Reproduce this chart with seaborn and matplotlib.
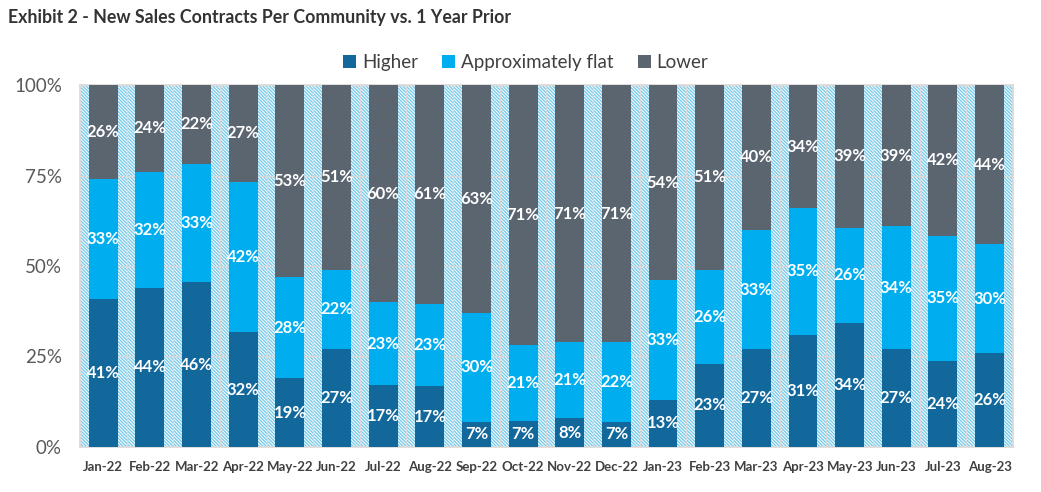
import numpy as np
import pandas as pd
import matplotlib
matplotlib.use('Agg')
import matplotlib.pyplot as plt
from matplotlib.patches import Patch
import seaborn as sns

sns.set_style('white')
plt.rcParams['font.family'] = ['Lato', 'DejaVu Sans']
plt.rcParams['hatch.color'] = '#7ACCEB'
plt.rcParams['hatch.linewidth'] = 1.0

# Datos (% de comunidades)
meses = ['Jan-22', 'Feb-22', 'Mar-22', 'Apr-22', 'May-22', 'Jun-22', 'Jul-22',
         'Aug-22', 'Sep-22', 'Oct-22', 'Nov-22', 'Dec-22', 'Jan-23', 'Feb-23',
         'Mar-23', 'Apr-23', 'May-23', 'Jun-23', 'Jul-23', 'Aug-23']
higher = [41, 44, 46, 32, 19, 27, 17, 17, 7, 7, 8, 7, 13, 23, 27, 31, 34, 27, 24, 26]
flat = [33, 32, 33, 42, 28, 22, 23, 23, 30, 21, 21, 22, 33, 26, 33, 35, 26, 34, 35, 30]
lower = [26, 24, 22, 27, 53, 51, 60, 61, 63, 71, 71, 71, 54, 51, 40, 34, 39, 39, 42, 44]

series = ['Higher', 'Approximately flat', 'Lower']
colores = ['#12689B', '#00AEEF', '#5B6570']

df = pd.DataFrame({'mes': meses, 'Higher': higher,
                   'Approximately flat': flat, 'Lower': lower})
total = df[series].sum(axis=1)
for s in series:
    df[s + '_n'] = df[s] / total * 100
df['cum1'] = df['Higher_n']
df['cum2'] = df['cum1'] + df['Approximately flat_n']
df['cum3'] = df['cum2'] + df['Lower_n']

fig = plt.figure(figsize=(10.41, 4.92), dpi=100)
ax = fig.add_axes([0.0768, 0.0915, 0.8962, 0.7357])

# Fondo rayado
ax.patch.set_facecolor('white')
ax.patch.set_hatch('\\' * 10)
ax.patch.set_edgecolor('#7ACCEB')
ax.patch.set_linewidth(0)

# Barras apiladas (acumuladas, de la mas alta a la mas baja)
ancho = 0.62
for col, color in zip(['cum3', 'cum2', 'cum1'], colores[::-1]):
    sns.barplot(data=df, x='mes', y=col, color=color, width=ancho,
                saturation=1, ax=ax, zorder=3, linewidth=0)

# Etiquetas de datos
for i, row in df.iterrows():
    bases = [0, row['cum1'], row['cum2']]
    for s, b in zip(series, bases):
        ax.text(i, b + row[s + '_n'] / 2, f"{row[s]}%", ha='center', va='center',
                color='white', fontsize=12, fontweight='bold', zorder=4)

ax.set_xlim(-0.5, len(meses) - 0.5)
ax.set_ylim(0, 100)
ax.set_yticks([0, 25, 50, 75, 100])
ax.set_yticklabels(['0%', '25%', '50%', '75%', '100%'], fontsize=13.5, color='#595959')
ax.set_xticks(range(len(meses)))
ax.set_xticklabels(meses, fontsize=9.5, fontweight='bold', color='#404040')
ax.set_xticks(np.arange(-0.5, len(meses), 1), minor=True)
ax.tick_params(axis='y', length=0, pad=13)
ax.tick_params(axis='x', length=0, pad=10)
ax.tick_params(axis='x', which='minor', length=0)
ax.set_xlabel('')
ax.set_ylabel('')

ax.grid(axis='y', color='#D9D9D9', linewidth=1, zorder=1)
ax.grid(axis='x', which='minor', color='#D9D9D9', linewidth=1, zorder=1)
ax.grid(axis='x', which='major', visible=False)
ax.set_axisbelow(True)
for sp in ax.spines.values():
    sp.set_color('#D9D9D9')
    sp.set_linewidth(1.2)

handles = [Patch(facecolor=c, edgecolor='none') for c in colores]
fig.legend(handles, series, loc='center', bbox_to_anchor=(0.505, 0.872), ncol=3,
           frameon=False, fontsize=13.5, handlelength=0.7, handleheight=0.7,
           handletextpad=0.3, columnspacing=1.3, labelcolor='#404040')

fig.text(0.008, 0.965, 'Exhibit 2 - New Sales Contracts Per Community vs. 1 Year Prior',
         fontsize=12.8, fontweight='bold', color='#333333', va='center', ha='left')

fig.savefig('out.png', dpi=100)
